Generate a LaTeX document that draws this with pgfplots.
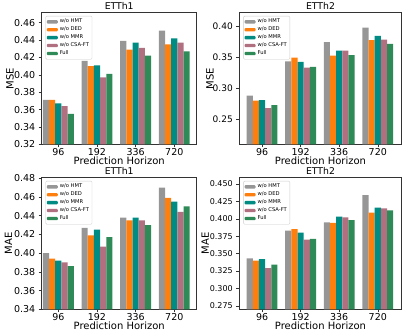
\documentclass[border=0pt]{standalone}
\usepackage{pgfplots}
\pgfplotsset{compat=1.18}
\usepackage{pgfplotstable}
\usepackage{fontspec}
\setmainfont{DejaVu Sans}
\setsansfont{DejaVu Sans}

\definecolor{cHMT}{RGB}{150,150,150}
\definecolor{cDED}{RGB}{255,127,14}
\definecolor{cMMR}{RGB}{0,140,130}
\definecolor{cCSA}{RGB}{176,112,128}
\definecolor{cFull}{RGB}{46,139,87}

\pgfplotstableread{
x hmt ded mmr csa full
0 0.371 0.371 0.367 0.364 0.355
1 0.416 0.410 0.411 0.397 0.401
2 0.439 0.429 0.437 0.431 0.422
3 0.451 0.435 0.442 0.437 0.427
}\mseone
\pgfplotstableread{
x hmt ded mmr csa full
0 0.288 0.280 0.281 0.268 0.273
1 0.343 0.349 0.342 0.333 0.334
2 0.374 0.352 0.360 0.360 0.353
3 0.397 0.377 0.384 0.378 0.371
}\msetwo
\pgfplotstableread{
x hmt ded mmr csa full
0 0.400 0.394 0.392 0.390 0.386
1 0.427 0.419 0.425 0.407 0.417
2 0.438 0.435 0.438 0.435 0.430
3 0.470 0.459 0.455 0.444 0.450
}\maeone
\pgfplotstableread{
x hmt ded mmr csa full
0 0.343 0.340 0.342 0.329 0.334
1 0.383 0.385 0.380 0.370 0.371
2 0.395 0.394 0.403 0.402 0.398
3 0.434 0.409 0.416 0.415 0.412
}\maetwo

\pgfplotsset{
  panel/.style={
    scale only axis,
    anchor=north west,
    height=131.6pt,
    ybar=0pt,
    bar width=0.16,
    xtick={0,1,2,3},
    xticklabels={96,192,336,720},
    xtick pos=bottom, ytick pos=left,
    tick align=outside,
    major tick length=3pt,
    tick style={black!80, line width=0.5pt},
    axis line style={black!80, line width=0.5pt},
    ticklabel style={font=\fontsize{9.5}{10}\selectfont},
    xticklabel style={yshift=2pt},
    /pgf/number format/assume math mode=true,
    /pgf/number format/fixed,
    /pgf/number format/fixed zerofill,
    /pgf/number format/precision=2,
    scaled y ticks=false,
    xlabel={Prediction Horizon},
    label style={font=\fontsize{11}{12}\selectfont},
    every axis x label/.style={at={(axis description cs:0.5,0)}, anchor=center, yshift=-16.5pt},
    every axis title/.style={at={(axis description cs:0.5,1)}, anchor=base, yshift=3pt,
      font=\fontsize{9.3}{10}\selectfont},
    legend style={at={(0.025,0.975)}, anchor=north west,
      font=\fontsize{5.2}{6}\selectfont, draw=black!20, rounded corners=1pt,
      inner sep=1pt, row sep=-1.4pt, cells={anchor=west}},
    legend image code/.code={\fill[#1] (0pt,-1.7pt) rectangle (11pt,1.7pt);},
  },
  ylab/.style 2 args={ylabel={#1},
    every axis y label/.style={at={(axis description cs:#2,0.5)}, rotate=90, anchor=center}},
  every axis plot/.append style={draw=none},
}

\newcommand\bars[1]{%
  \addplot[fill=cHMT] table[x=x,y=hmt]{#1};
  \addplot[fill=cDED] table[x=x,y=ded]{#1};
  \addplot[fill=cMMR] table[x=x,y=mmr]{#1};
  \addplot[fill=cCSA] table[x=x,y=csa]{#1};
  \addplot[fill=cFull] table[x=x,y=full]{#1};
  \legend{w/o HMT, w/o DED, w/o MMR, w/o CSA-FT, Full}
}

\begin{document}
\begin{tikzpicture}
\useasboundingbox (0,0) rectangle (407pt,-331pt);

\begin{axis}[panel, at={(41.7pt,-12.7pt)}, width=155pt,
  xmin=-0.43, xmax=3.58, ymin=0.32, ymax=0.4715,
  ytick={0.32,0.34,...,0.461}, ylab={MSE}{-0.205}, title={ETTh1}]
\bars{\mseone}
\end{axis}

\begin{axis}[panel, at={(239.3pt,-12.7pt)}, width=162.4pt,
  xmin=-0.59, xmax=3.62, ymin=0.21, ymax=0.421,
  yticklabel style={font=\fontsize{9}{10}\selectfont},
  ytick={0.25,0.30,0.35,0.40}, ylab={MSE}{-0.18}, title={ETTh2}]
\bars{\msetwo}
\end{axis}

\begin{axis}[panel, at={(41.7pt,-177.7pt)}, width=155pt,
  xmin=-0.43, xmax=3.58, ymin=0.34, ymax=0.4805,
  ytick={0.34,0.36,...,0.481}, ylab={MAE}{-0.215}, title={ETTh1}]
\bars{\maeone}
\end{axis}

\begin{axis}[panel, at={(239.3pt,-177.7pt)}, width=162.4pt,
  xmin=-0.59, xmax=3.62, ymin=0.270, ymax=0.459,
  yticklabel style={font=\fontsize{8}{9}\selectfont},
  ytick={0.275,0.300,...,0.451}, ylab={MAE}{-0.21}, title={ETTh2},
  /pgf/number format/precision=3]
\bars{\maetwo}
\end{axis}
\end{tikzpicture}
\end{document}
